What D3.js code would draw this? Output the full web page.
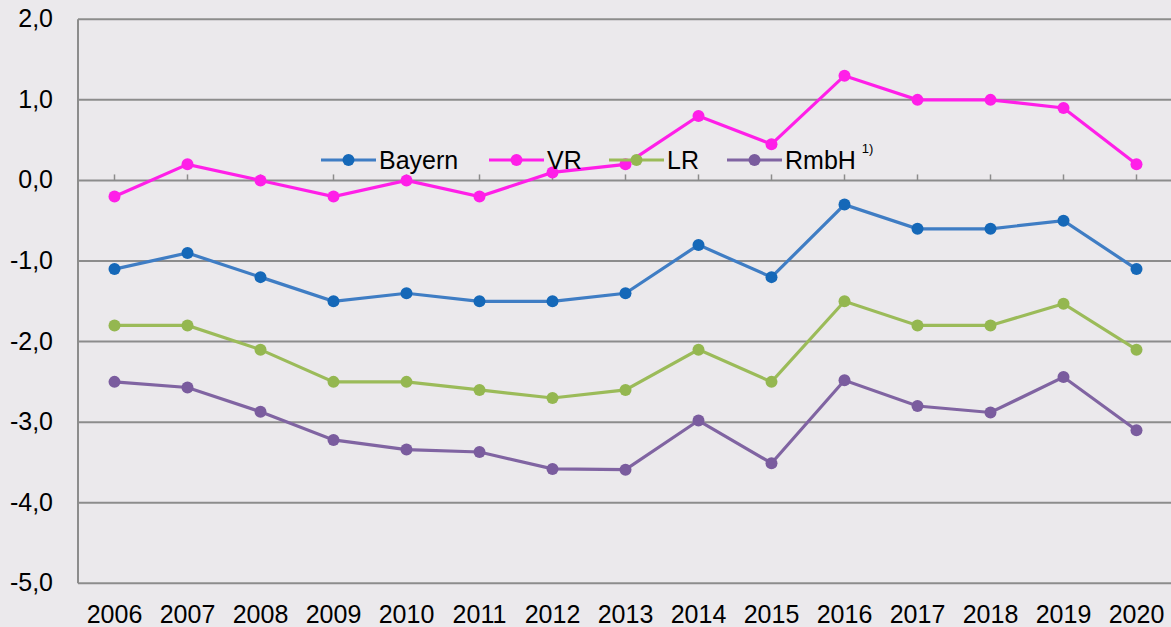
<!DOCTYPE html>
<html lang="de">
<head>
<meta charset="utf-8">
<title>Entwicklung</title>
<script src="https://d3js.org/d3.v7.min.js"></script>
<style>
  body { margin: 0; background: #ebe9ec; }
  svg text { font-family: "Liberation Sans", Arial, sans-serif; fill: #000; }
</style>
</head>
<body>
<div id="chart"></div>
<script>
// data
var years = ["2006","2007","2008","2009","2010","2011","2012","2013","2014","2015","2016","2017","2018","2019","2020"];
var bayern = [-1.1, -0.9, -1.2, -1.5, -1.4, -1.5, -1.5, -1.4, -0.8, -1.2, -0.3, -0.6, -0.6, -0.5, -1.1];
var vr     = [-0.2, 0.2, 0.0, -0.2, 0.0, -0.2, 0.1, 0.2, 0.8, 0.45, 1.3, 1.0, 1.0, 0.9, 0.2];
var lr     = [-1.8, -1.8, -2.1, -2.5, -2.5, -2.6, -2.7, -2.6, -2.1, -2.5, -1.5, -1.8, -1.8, -1.53, -2.1];
var rmbh   = [-2.5, -2.57, -2.87, -3.22, -3.34, -3.37, -3.58, -3.59, -2.98, -3.51, -2.48, -2.8, -2.88, -2.44, -3.1];
var yTicks = [2, 1, 0, -1, -2, -3, -4, -5];

var series = [
  {name: "Bayern", values: bayern, line: "#3f7dc4", dot: "#1568b8"},
  {name: "VR", values: vr, line: "#ff1fe8", dot: "#ff1fe8"},
  {name: "LR", values: lr, line: "#9bbb59", dot: "#94b750"},
  {name: "RmbH", values: rmbh, line: "#8064a2", dot: "#7a5c9e", sup: "1)"}
];

var width = 1171, height = 627;
var plotLeft = 78, plotTop = 19.3, plotBottom = 583.3;

var svg = d3.select("#chart").append("svg")
    .attr("width", width).attr("height", height)
    .style("background", "#ebe9ec")
    .style("display", "block");

var x = d3.scaleBand().domain(years).range([plotLeft, plotLeft + 73 * years.length]);
var y = d3.scaleLinear().domain([-5, 2]).range([plotBottom, plotTop]);
var cx = function (i) { return x(years[i]) + x.bandwidth() / 2; };

// gridlines
svg.selectAll(".grid").data(yTicks).enter().append("line")
    .attr("x1", plotLeft).attr("x2", width)
    .attr("y1", function (d) { return y(d); })
    .attr("y2", function (d) { return y(d); })
    .attr("stroke", "#8c8c8c").attr("stroke-width", 2);

// left axis line
svg.append("line")
    .attr("x1", plotLeft).attr("x2", plotLeft)
    .attr("y1", plotTop).attr("y2", plotBottom)
    .attr("stroke", "#8c8c8c").attr("stroke-width", 2);

// tick marks on the zero line
svg.selectAll(".tick").data(years).enter().append("line")
    .attr("x1", function (d) { return x(d) + x.bandwidth() / 2; })
    .attr("x2", function (d) { return x(d) + x.bandwidth() / 2; })
    .attr("y1", y(0)).attr("y2", y(0) - 6)
    .attr("stroke", "#8c8c8c").attr("stroke-width", 1.5);

// y labels
svg.selectAll(".ylab").data(yTicks).enter().append("text")
    .attr("x", 53).attr("y", function (d) { return y(d) + 8; })
    .attr("text-anchor", "end")
    .style("font-size", "25px")
    .text(function (d) { return d3.format(".1f")(d).replace(".", ",").replace("−", "-"); });

// x labels
svg.selectAll(".xlab").data(years).enter().append("text")
    .attr("x", function (d) { return x(d) + x.bandwidth() / 2; })
    .attr("y", 623)
    .attr("text-anchor", "middle")
    .style("font-size", "25px")
    .text(function (d) { return d; });

var line = d3.line()
    .x(function (d, i) { return cx(i); })
    .y(function (d) { return y(d); });

series.forEach(function (s) {
  svg.append("path")
      .datum(s.values)
      .attr("d", line)
      .attr("fill", "none")
      .attr("stroke", s.line)
      .attr("stroke-width", 3.2);
  svg.selectAll(null).data(s.values).enter().append("circle")
      .attr("cx", function (d, i) { return cx(i); })
      .attr("cy", function (d) { return y(d); })
      .attr("r", 6)
      .attr("fill", s.dot);
});

// legend
var legX = [321, 489, 609, 727];
var legY = 160;
series.forEach(function (s, i) {
  var g = svg.append("g").attr("transform", "translate(" + legX[i] + "," + legY + ")");
  g.append("line").attr("x1", 0).attr("x2", 55).attr("y1", 0).attr("y2", 0)
      .attr("stroke", s.line).attr("stroke-width", 3.2);
  g.append("circle").attr("cx", 27.5).attr("cy", 0).attr("r", 6).attr("fill", s.dot);
  var t = g.append("text").attr("x", 58).attr("y", 9).style("font-size", "25px").text(s.name);
  if (s.sup) {
    g.append("text").attr("x", 58 + t.node().getComputedTextLength() + 6).attr("y", -7)
        .style("font-size", "13px").text(s.sup);
  }
});
</script>
</body>
</html>
